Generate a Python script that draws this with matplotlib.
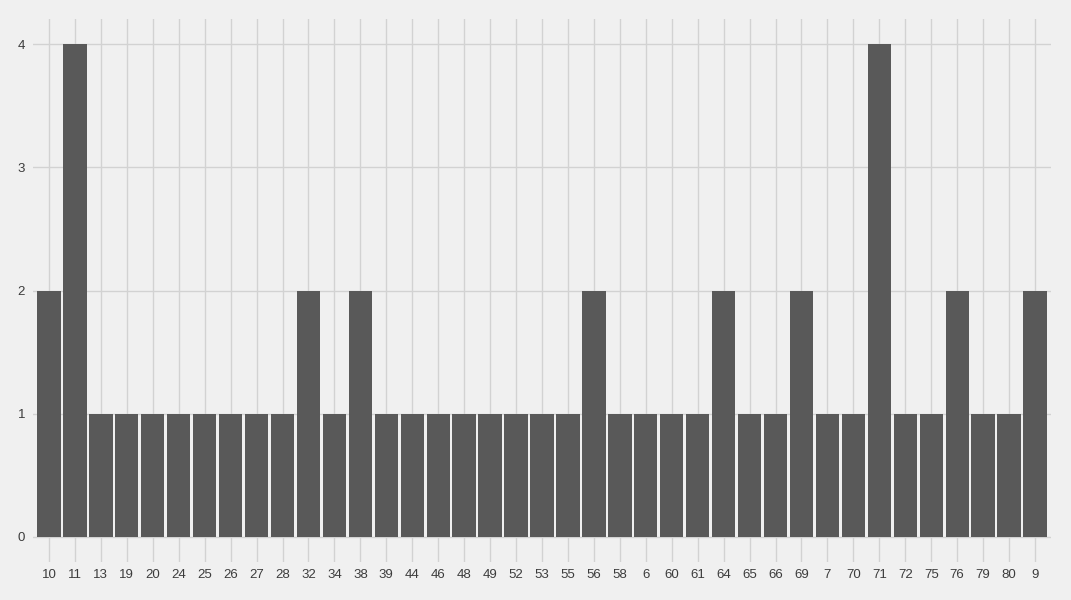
import matplotlib
matplotlib.use("Agg")
import matplotlib.pyplot as plt
import numpy as np

# 类别与计数
categories = ["10", "11", "13", "19", "20", "24", "25", "26", "27", "28",
              "32", "34", "38", "39", "44", "46", "48", "49", "52", "53",
              "55", "56", "58", "6", "60", "61", "64", "65", "66", "69",
              "7", "70", "71", "72", "75", "76", "79", "80", "9"]
counts = [2, 4, 1, 1, 1, 1, 1, 1, 1, 1,
          2, 1, 2, 1, 1, 1, 1, 1, 1, 1,
          1, 2, 1, 1, 1, 1, 2, 1, 1, 2,
          1, 1, 4, 1, 1, 2, 1, 1, 2]
y_ticks = [0, 1, 2, 3, 4]

BG = "#f0f0f0"
GRID = "#d2d2d2"
BAR = "#595959"
TXT = "#3c3c3c"

plt.rcParams["font.family"] = ["Liberation Sans", "DejaVu Sans"]

fig = plt.figure(figsize=(10.71, 6), dpi=100)
fig.patch.set_facecolor(BG)
ax = fig.add_axes([33.4 / 1071, (600 - 561.6) / 600,
                   (1050.6 - 33.4) / 1071, (561.6 - 19.4) / 600])
ax.set_facecolor(BG)

x = np.arange(len(categories))
ax.bar(x, counts, width=0.9, color=BAR, zorder=3)

ax.set_xlim(-0.6, len(categories) - 1 + 0.6)
ax.set_ylim(-0.2, 4.2)
ax.set_xticks(x)
ax.set_xticklabels(categories)
ax.set_yticks(y_ticks)

ax.grid(True, color=GRID, linewidth=1.0, zorder=0)
for s in ax.spines.values():
    s.set_visible(False)
ax.tick_params(axis="both", length=0, labelsize=9.5, colors=TXT)
ax.tick_params(axis="x", pad=5)
ax.tick_params(axis="y", pad=6)

fig.savefig("out.png", dpi=100, facecolor=BG)
